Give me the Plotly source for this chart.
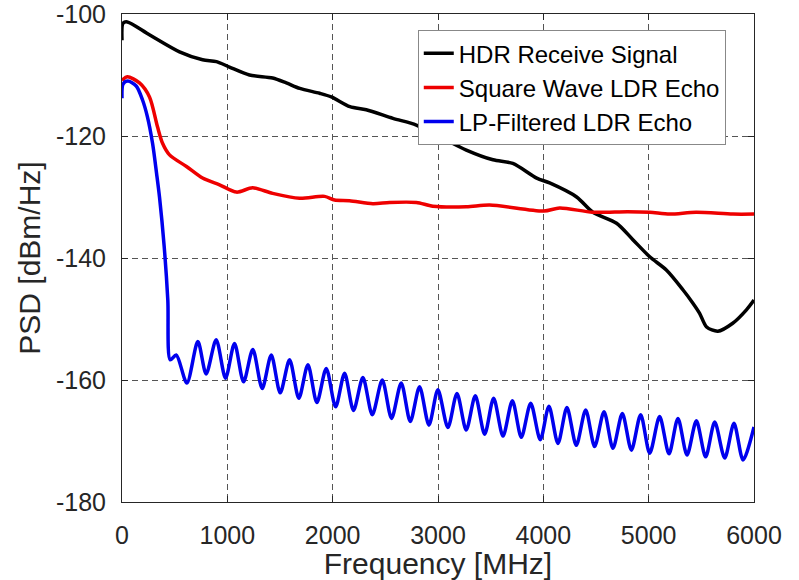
import plotly.graph_objects as go

# ---- data ----
hdr_f = [0, 10, 50, 260, 546, 765, 897, 1020, 1210, 1430, 1560, 1688, 1876, 1987,
         2164, 2319, 2572, 2794, 3015, 3269, 3522, 3710, 3937, 4060, 4316, 4470,
         4695, 4850, 5010, 5170, 5325, 5420, 5485, 5550, 5657, 5798, 5928, 6000]
hdr_v = [-104.3, -101.5, -101.3, -103.4, -106.2, -107.5, -107.8, -108.7, -110.0,
         -110.5, -111.3, -112.2, -113.0, -113.6, -115.2, -115.7, -117.1, -118.2,
         -120.1, -122.3, -123.9, -124.5, -126.9, -127.7, -130.0, -132.5, -134.3,
         -137.0, -139.8, -142.0, -145.2, -147.4, -149.1, -151.3, -152.0, -150.7,
         -148.5, -146.9]

sq_f = [0, 50, 166, 261, 337, 385, 451, 612, 765, 926, 1087, 1240, 1430, 1686,
        1923, 2018, 2160, 2382, 2540, 2794, 2951, 3269, 3490, 4004, 4155, 4470,
        4800, 5010, 5200, 5450, 5800, 6000]
sq_v = [-110.9, -110.3, -111.3, -113.6, -118.5, -121.2, -123.1, -125.0, -126.9,
        -128.0, -129.2, -128.5, -129.4, -130.2, -129.9, -130.5, -130.6, -131.1,
        -130.9, -130.9, -131.5, -131.6, -131.3, -132.3, -131.8, -132.5, -132.4,
        -132.5, -132.8, -132.5, -132.8, -132.8]

lp_f = [0, 10, 55, 135, 195, 242, 290, 328, 356, 400, 435, 458, 515,
        616, 720, 799, 894, 983, 1068, 1154, 1242, 1331, 1417, 1502, 1591, 1679,
        1765, 1850, 1939, 2028, 2113, 2198, 2287, 2376, 2471, 2559, 2651, 2737,
        2825, 2914, 2999, 3094, 3180, 3268, 3354, 3443, 3528, 3617, 3706, 3791,
        3880, 3971, 4053, 4139, 4224, 4313, 4402, 4487, 4576, 4661, 4750, 4836,
        4924, 5010, 5104, 5193, 5278, 5364, 5453, 5541, 5627, 5722, 5810, 5896,
        6000]
lp_v = [-113.8, -111.5, -111.0, -111.8, -114.1, -116.9, -121.2, -126.1, -130.0,
        -138.0, -146.9, -156.7, -155.9,
        -160.5, -153.7, -159.0, -153.4, -159.7, -154.0, -160.3, -155.0, -161.4,
        -155.9, -162.1, -156.7, -163.0, -157.5, -163.7, -158.1, -164.4, -158.9,
        -165.0, -159.6, -165.7, -160.0, -166.3, -160.5, -166.8, -161.1, -167.4,
        -161.6, -167.8, -162.2, -168.2, -162.6, -168.9, -163.0, -169.2, -163.4,
        -169.4, -163.8, -169.8, -164.3, -170.4, -164.5, -170.7, -164.9, -170.9,
        -165.2, -171.2, -165.5, -171.5, -165.7, -172.0, -166.0, -172.1, -166.3,
        -172.3, -166.7, -172.6, -166.9, -172.8, -167.1, -173.1, -167.7]

x_ticks = [0, 1000, 2000, 3000, 4000, 5000, 6000]
y_ticks = [-180, -160, -140, -120, -100]

names = ["HDR Receive Signal", "Square Wave LDR Echo", "LP-Filtered LDR Echo"]
colors = ["#000000", "#ee0000", "#0000ee"]

fig = go.Figure()
for f, v, n, c in zip([hdr_f, sq_f, lp_f], [hdr_v, sq_v, lp_v], names, colors):
    fig.add_trace(go.Scatter(x=f, y=v, name=n, mode="lines",
                             line=dict(color=c, width=3.5, shape="spline", smoothing=0.8)))

axis_common = dict(
    showline=True, linecolor="#262626", linewidth=1, mirror="ticks",
    ticks="inside", ticklen=6, tickcolor="#262626", tickwidth=1,
    showgrid=True, gridcolor="#555555", gridwidth=1, griddash="6px,4px",
    zeroline=False, tickfont=dict(size=25, color="#262626"),
    automargin=False, ticklabeloverflow="allow",
)

fig.update_xaxes(range=[0, 6000], tickvals=x_ticks, ticktext=[str(t) for t in x_ticks],
                 title=dict(text="Frequency [MHz]", font=dict(size=30, color="#262626"), standoff=0),
                 ticklabelstandoff=11, **axis_common)
fig.update_yaxes(range=[-180, -100], tickvals=y_ticks, ticktext=[str(t) for t in y_ticks],
                 title=dict(text="PSD [dBm/Hz]", font=dict(size=30, color="#262626"), standoff=6),
                 ticklabelstandoff=10, **axis_common)

fig.update_layout(
    width=799, height=580,
    margin=dict(l=122, r=45, t=14, b=78),
    paper_bgcolor="white", plot_bgcolor="white",
    font=dict(family="Liberation Sans, Arial, sans-serif", color="#262626"),
    showlegend=True,
    legend=dict(x=0.468, y=0.967, xanchor="left", yanchor="top",
                bgcolor="white", bordercolor="#888888", borderwidth=1,
                font=dict(size=24, color="#000000"), tracegroupgap=0),
)

# remove the default page margin so the figure fills the window exactly
fig.write_html("out.html", config={"displayModeBar": False},
               post_script="document.body.style.margin='0';")
